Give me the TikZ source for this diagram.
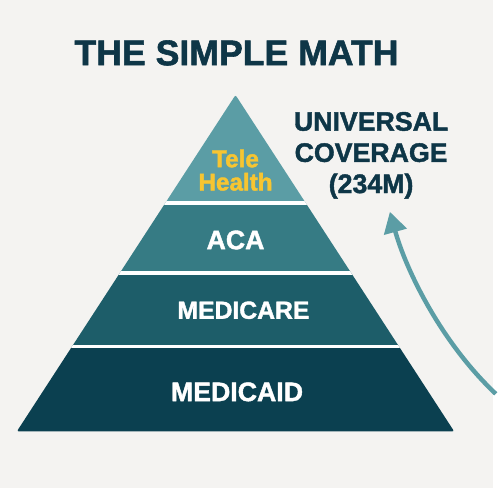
\documentclass[tikz,border=0pt]{standalone}
\usepackage{fontspec}
\setmainfont{Liberation Sans}
\newfontfamily\heavy{Liberation Sans Bold}[RawFeature={embolden=1.6}]
\usetikzlibrary{arrows.meta}

\definecolor{bgcol}{HTML}{F4F3F1}
\definecolor{navy}{HTML}{0E3647}
\definecolor{teleband}{HTML}{5B9DA5}
\definecolor{acaband}{HTML}{367B84}
\definecolor{careband}{HTML}{1D5D69}
\definecolor{aidband}{HTML}{0B4050}
\definecolor{gold}{HTML}{F7C531}

\tikzset{
  band/.style={white, font=\heavy\fontsize{27}{30}\selectfont, inner sep=0pt},
}

\begin{document}
\begin{tikzpicture}[x=1pt, y=-1pt, every node/.style={inner sep=0pt}]
  \fill[bgcol] (0,0) rectangle (498,493);

  \coordinate (TOP) at (238,96);
  \coordinate (BL)  at (17,436);
  \coordinate (BR)  at (459,436);
  \coordinate (TIP) at (394,214);
  \coordinate (TAIL) at (501,398);

  \begin{scope}
    \clip[rounded corners=2pt] (TOP)--(BR)--(BL)--cycle;
    \fill[teleband] (0,90)  rectangle (498,205);
    \fill[acaband]  (0,205) rectangle (498,276);
    \fill[careband] (0,276) rectangle (498,350);
    \fill[aidband]  (0,350) rectangle (498,440);
    \draw[white, line width=3.5pt] (0,205)--(498,205) (0,276)--(498,276) (0,350)--(498,350);
  \end{scope}

  \draw[teleband, line width=4.5pt, -{Triangle[length=21pt,width=23pt]}]
    (TAIL) .. controls (445,345) and (410,272) .. (TIP);

  \node[navy, font=\heavy\fontsize{36}{40}\selectfont] (title) at (239,53.5) {THE SIMPLE MATH};
  \node[gold, align=center, font=\heavy\fontsize{24.5}{23.5}\selectfont] (tele) at (238,172) {Tele\\Health};
  \node[band] (aca)      at (238,242.5) {ACA};
  \node[band, font=\heavy\fontsize{25}{30}\selectfont] (medicare) at (246,313.5) {MEDICARE};
  \node[band] (medicaid) at (239.5,396) {MEDICAID};
  \node[navy, align=center, anchor=north, font=\heavy\fontsize{27}{31.5}\selectfont] (goal) at (375,113) {UNIVERSAL\\COVERAGE\\(234M)};
\end{tikzpicture}
\end{document}
